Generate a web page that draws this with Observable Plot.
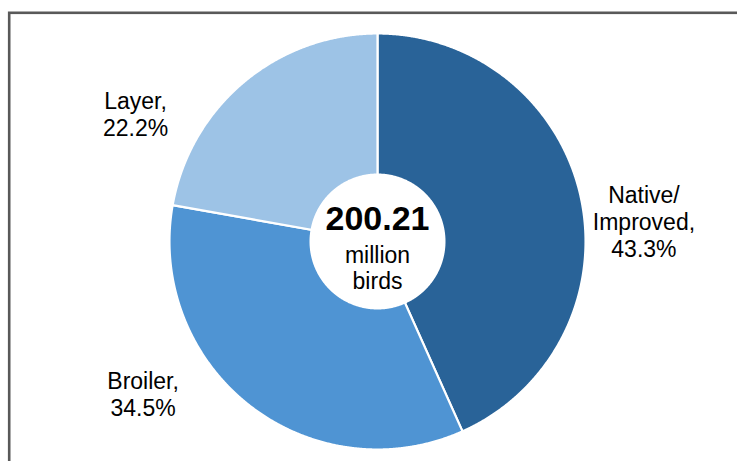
<!DOCTYPE html>
<html>
<head>
<meta charset="utf-8">
<script src="https://cdn.jsdelivr.net/npm/d3@7"></script>
<script src="https://cdn.jsdelivr.net/npm/@observablehq/plot@0.6"></script>
<style>
  html, body { margin: 0; padding: 0; background: #fff; overflow: hidden; }
  #chart { width: 737px; height: 461px; overflow: hidden; }
  #chart svg { display: block; }
</style>
</head>
<body>
<div id="chart"></div>
<script>
// ---- data ----
const categories = ["Native/Improved", "Broiler", "Layer"];
const shares = [43.3, 34.5, 22.2];
const labelNames = ["Native/\nImproved,", "Broiler,", "Layer,"];
const colors = ["#296398", "#4F94D3", "#9DC3E6"];
const totalValue = "200.21";
const totalUnit = "million\nbirds";

// ---- derived geometry (unit radius) ----
const rows = categories.map((c, i) => ({category: c, share: shares[i], name: labelNames[i]}));
const arcs = d3.pie().sort(null).value(d => d.share)(rows);
const outerR = 1.005;
const holeR = 68 / 207;

const slicePts = [];
for (const a of arcs) {
  const c = a.data.category;
  slicePts.push({category: c, x: 0, y: 0});
  const n = Math.ceil((a.endAngle - a.startAngle) / (Math.PI / 720));
  for (let i = 0; i <= n; i++) {
    const t = a.startAngle + (a.endAngle - a.startAngle) * i / n;
    slicePts.push({category: c, x: outerR * Math.sin(t), y: outerR * Math.cos(t)});
  }
  slicePts.push({category: c, x: 0, y: 0});
}
const holePts = d3.range(0, 721).map(i => {
  const t = i / 720 * 2 * Math.PI;
  return {x: holeR * Math.sin(t), y: holeR * Math.cos(t)};
});

const labelRows = arcs.map(a => {
  const m = (a.startAngle + a.endAngle) / 2;
  return {
    category: a.data.category,
    x: Math.sin(m),
    y: Math.cos(m),
    text: a.data.name + "\n" + d3.format(".1f")(a.data.share) + "%"
  };
});

const labelFont = {fontSize: 23, fontFamily: "Liberation Sans, Arial, sans-serif", fill: "#000", lineHeight: 1.17, textAnchor: "middle", lineAnchor: "middle"};
const labelOffsets = {
  "Native/Improved": {dx: 64, dy: 23},
  "Broiler": {dx: -107, dy: -11},
  "Layer": {dx: -109, dy: 31}
};
const labelMarks = categories.map(c =>
  Plot.text(labelRows.filter(d => d.category === c), {x: "x", y: "y", text: "text", ...labelFont, ...labelOffsets[c]})
);

const W = 737, H = 461, R = 207, cx = 377, cy = 241;

const chart = Plot.plot({
  width: W,
  height: H,
  margin: 0,
  style: {background: "transparent", fontFamily: "Liberation Sans, Arial, sans-serif"},
  x: {axis: null, domain: [-cx / R, (W - cx) / R], range: [0, W]},
  y: {axis: null, domain: [-(H - cy) / R, cy / R], range: [H, 0]},
  color: {domain: categories, range: colors},
  marks: [
    Plot.frame({stroke: "#595959", strokeWidth: 2.6, insetLeft: 8.7, insetTop: 12.3, insetRight: -30, insetBottom: -30}),
    Plot.line(slicePts, {x: "x", y: "y", z: "category", fill: "category", stroke: "white", strokeWidth: 2.2, strokeLinejoin: "round", curve: "linear"}),
    Plot.line(holePts, {x: "x", y: "y", fill: "white", stroke: "none"}),
    Plot.text([{x: 0, y: 0, t: totalValue}], {x: "x", y: "y", text: "t", fontSize: 34, fontWeight: "bold", fill: "#000", textAnchor: "middle", lineAnchor: "middle", dy: -22, fontFamily: "Liberation Sans, Arial, sans-serif"}),
    Plot.text([{x: 0, y: 0, t: totalUnit}], {x: "x", y: "y", text: "t", fontSize: 23, fill: "#000", textAnchor: "middle", lineAnchor: "middle", lineHeight: 1.13, dy: 26, fontFamily: "Liberation Sans, Arial, sans-serif"}),
    ...labelMarks
  ]
});
document.getElementById("chart").appendChild(chart);
</script>
</body>
</html>
